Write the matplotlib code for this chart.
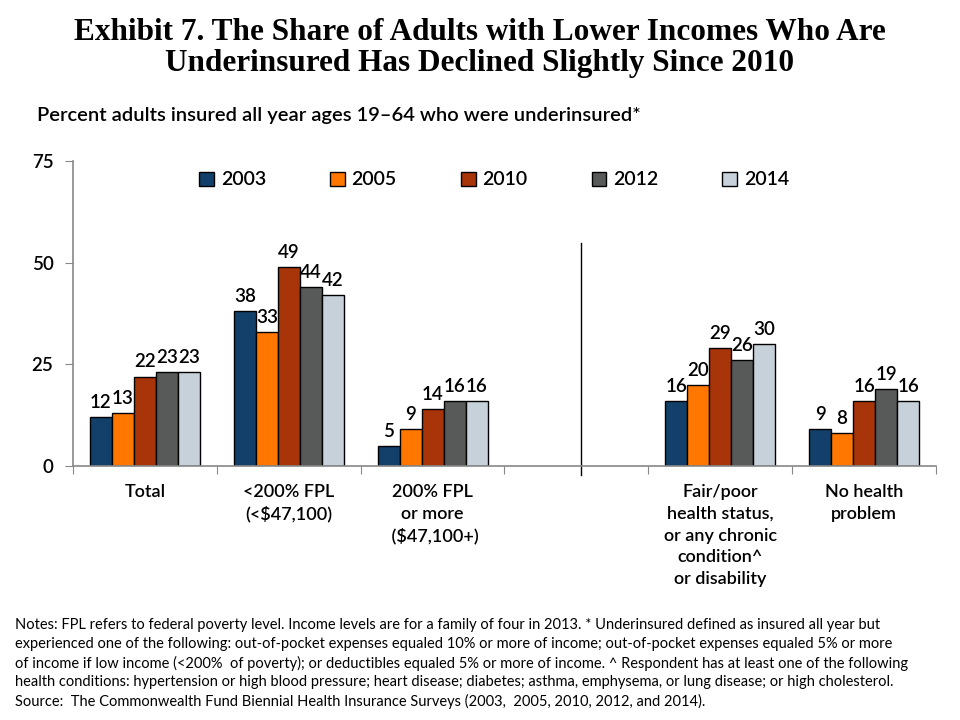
import numpy as np
import matplotlib
matplotlib.use("Agg")
import matplotlib.pyplot as plt

plt.rcParams["font.family"] = ["Lato", "DejaVu Sans"]

categories = ["Total", "<200% FPL\n(<$47,100)", "200% FPL\nor more\n ($47,100+)", "",
              "Fair/poor\nhealth status,\nor any chronic\ncondition^\nor disability",
              "No health\nproblem"]
years = ["2003", "2005", "2010", "2012", "2014"]
v2003 = [12, 38, 5, None, 16, 9]
v2005 = [13, 33, 9, None, 20, 8]
v2010 = [22, 49, 14, None, 29, 16]
v2012 = [23, 44, 16, None, 26, 19]
v2014 = [23, 42, 16, None, 30, 16]
series = [v2003, v2005, v2010, v2012, v2014]
colors = ["#12406A", "#FF7700", "#A8340A", "#575A59", "#C6D1DA"]

fig = plt.figure(figsize=(9.6, 7.2), dpi=100)
ax = fig.add_axes([73 / 960, 1 - 466 / 720, 863 / 960, 305 / 720])

bw = 0.153
x = np.arange(len(categories)) + 0.5
for k, (vals, col, yr) in enumerate(zip(series, colors, years)):
    xs = [xi + (k - 2) * bw for xi, v in zip(x, vals) if v is not None]
    hs = [v for v in vals if v is not None]
    bars = ax.bar(xs, hs, bw, color=col, edgecolor="black", linewidth=1, label=yr)
    for b, h in zip(bars, hs):
        ax.text(b.get_x() + bw / 2, h + 1.5, str(h), ha="center", va="bottom",
                fontsize=13.5, fontweight="semibold")

ax.set_xlim(0, 6)
ax.set_ylim(0, 75)
ax.set_yticks([0, 25, 50, 75])
ax.set_xticks(np.arange(7))
ax.set_xticklabels([])
ax.tick_params(axis="y", length=6, color="#888888", labelsize=13.5, pad=8)
ax.tick_params(axis="x", length=6, color="#888888")
for lbl in ax.get_yticklabels():
    lbl.set_fontweight("semibold")
for s in ["top", "right"]:
    ax.spines[s].set_visible(False)
for s in ["left", "bottom"]:
    ax.spines[s].set_color("#888888")
    ax.spines[s].set_linewidth(1.2)

for xi, cat in zip(x, categories):
    ax.text(xi, -4.4, cat, ha="center", va="top", fontsize=13, fontweight="semibold",
            linespacing=1.45)

# separator between income and health groups
ax.plot([3.53, 3.53], [54.8, -2.2], color="black", linewidth=1, clip_on=False)

ax.legend(loc="center", bbox_to_anchor=(0.488, 0.938), ncol=5, frameon=False,
          handlelength=0.75, handleheight=0.75, handletextpad=0.35,
          columnspacing=3.3, prop={"size": 14, "weight": "semibold"})

fig.text(0.5, 1 - 32 / 720, "Exhibit 7. The Share of Adults with Lower Incomes Who Are",
         ha="center", va="center", fontsize=22.5, fontweight="bold",
         family="Liberation Serif")
fig.text(0.5, 1 - 63 / 720, "Underinsured Has Declined Slightly Since 2010",
         ha="center", va="center", fontsize=22.5, fontweight="bold",
         family="Liberation Serif")
fig.text(37 / 960, 1 - 115 / 720,
         "Percent adults insured all year ages 19\u201364 who were underinsured*",
         ha="left", va="center", fontsize=14.5, fontweight="semibold")

notes = ("Notes: FPL refers to federal poverty level. Income levels are for a family of four in 2013. "
         "* Underinsured defined as insured all year but\n"
         "experienced one of the following: out-of-pocket expenses equaled 10% or more of income; "
         "out-of-pocket expenses equaled 5% or more\n"
         "of income if low income (<200%  of poverty); or deductibles equaled 5% or more of income. "
         "^ Respondent has at least one of the following\n"
         "health conditions: hypertension or high blood pressure; heart disease; diabetes; "
         "asthma, emphysema, or lung disease; or high cholesterol.\n"
         "Source:  The Commonwealth Fund Biennial Health Insurance Surveys "
         "(2003,  2005, 2010, 2012, and 2014).")
fig.text(15 / 960, 1 - 618 / 720, notes, ha="left", va="top", fontsize=10.5,
         linespacing=1.42)

fig.savefig("out.png", dpi=100)
